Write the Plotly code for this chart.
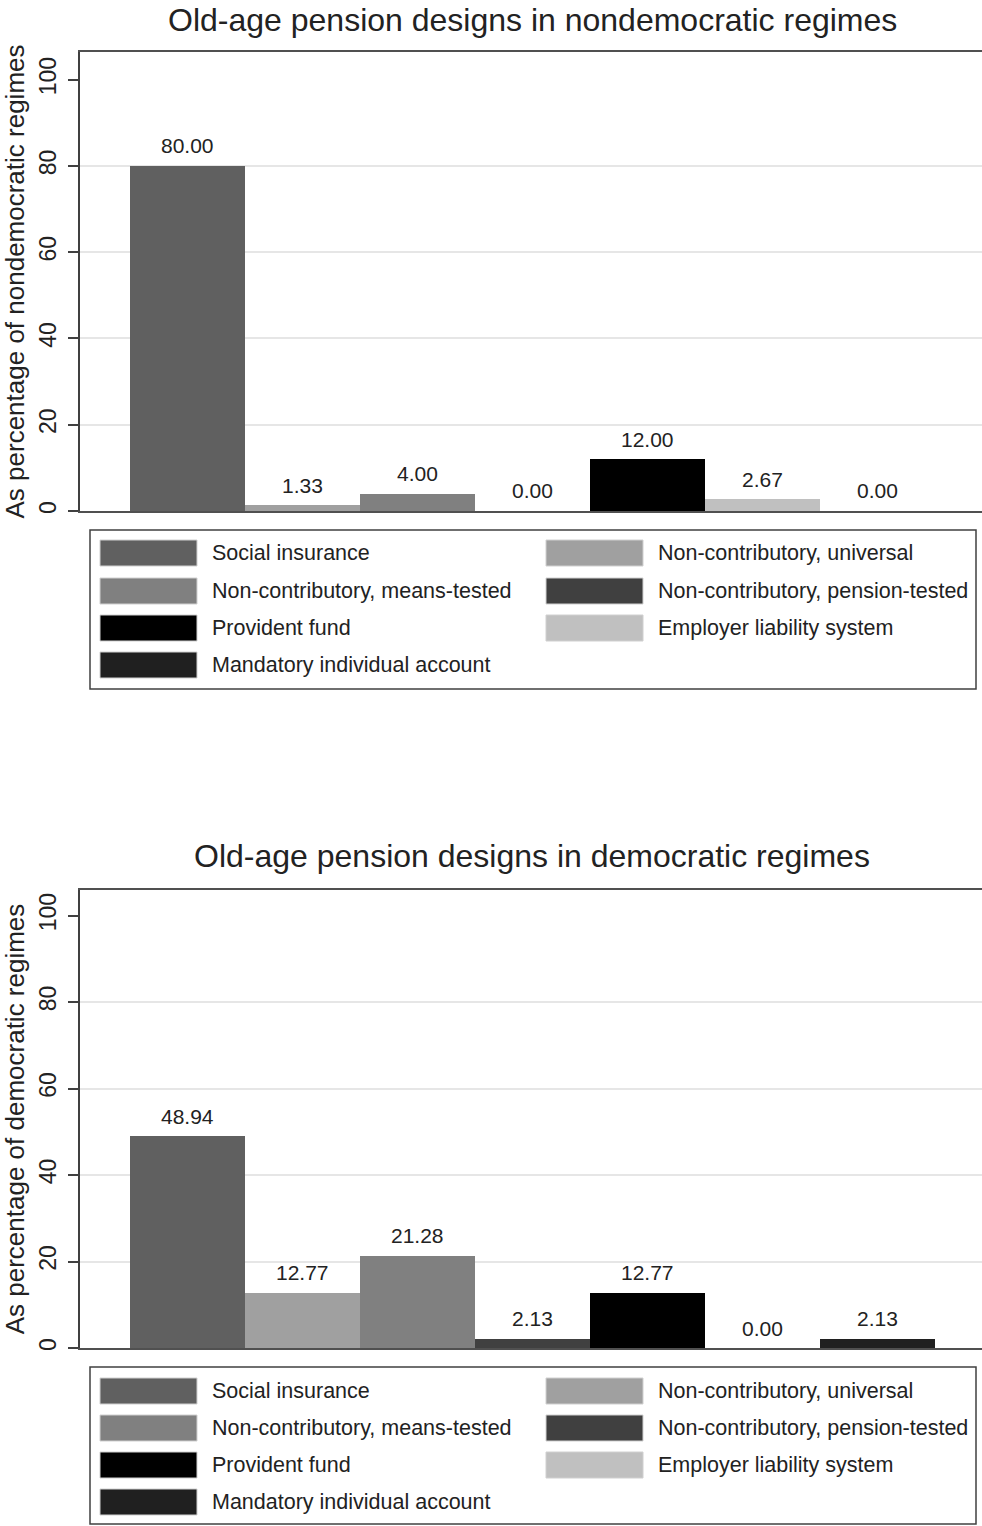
import plotly.graph_objects as go

# ---- data ----
categories = [
    "Social insurance",
    "Non-contributory, universal",
    "Non-contributory, means-tested",
    "Non-contributory, pension-tested",
    "Provident fund",
    "Employer liability system",
    "Mandatory individual account",
]
colors = ["#606060", "#a0a0a0", "#808080", "#404040", "#000000", "#c0c0c0", "#202020"]
nondem_values = [80.00, 1.33, 4.00, 0.00, 12.00, 2.67, 0.00]
dem_values = [48.94, 12.77, 21.28, 2.13, 12.77, 0.00, 2.13]
titles = ["Old-age pension designs in nondemocratic regimes",
          "Old-age pension designs in democratic regimes"]
ytitles = ["As percentage of nondemocratic regimes",
           "As percentage of democratic regimes"]
y_ticks = [0, 20, 40, 60, 80, 100]
grid_ticks = [20, 40, 60, 80]

W, H = 982, 1526
FONT = "Liberation Sans, Arial, sans-serif"
ML = 80
PW = W - ML

def px_x(px):
    return (px - ML) / PW

def px_y(py):
    return 1 - py / H

panels = [
    dict(values=nondem_values, top=52, bottom=511, ymax=106.4, title_y=20, leg_top=530, leg_bottom=689,
         rows=[553, 591, 628, 665]),
    dict(values=dem_values, top=890, bottom=1348, ymax=105.9, title_y=856, leg_top=1367, leg_bottom=1524,
         rows=[1391, 1428, 1465, 1502]),
]

fig = go.Figure()
shapes = []
annotations = []
xs = list(range(len(categories)))

for i, p in enumerate(panels):
    xa = "x" if i == 0 else "x2"
    ya = "y" if i == 0 else "y2"
    fig.add_trace(go.Bar(
        x=xs, y=p["values"],
        marker=dict(color=colors, line=dict(width=0)),
        width=1.0,
        showlegend=False,
        xaxis=xa, yaxis=ya,
        hovertext=categories,
    ))
    for xv, v in zip(xs, p["values"]):
        annotations.append(dict(
            text=f"{v:.2f}", xref=xa, yref=ya, x=xv, y=v,
            xanchor="center", yanchor="middle", yshift=20, showarrow=False,
            font=dict(size=21, color="#222222", family=FONT)))
    # titles
    annotations.append(dict(
        text=titles[i], xref="paper", yref="paper",
        x=px_x(532), y=px_y(p["title_y"]), xanchor="center", yanchor="middle",
        showarrow=False, font=dict(size=32, color="#222222", family=FONT)))
    # legend box
    shapes.append(dict(type="rect", xref="paper", yref="paper",
                       x0=px_x(90), x1=px_x(976), y0=px_y(p["leg_bottom"]), y1=px_y(p["leg_top"]),
                       line=dict(color="#404040", width=1.5), fillcolor="rgba(0,0,0,0)"))
    for k, cat in enumerate(categories):
        row = k // 2
        col = k % 2
        cy = p["rows"][row]
        sx0 = 100 if col == 0 else 546
        shapes.append(dict(type="rect", xref="paper", yref="paper",
                           x0=px_x(sx0), x1=px_x(sx0 + 97),
                           y0=px_y(cy + 13), y1=px_y(cy - 13),
                           line=dict(color="#d0d0d0", width=1), fillcolor=colors[k]))
        annotations.append(dict(
            text=cat, xref="paper", yref="paper",
            x=px_x(sx0 + 110), y=px_y(cy), xanchor="left", yanchor="middle",
            showarrow=False, font=dict(size=21.5, color="#222222", family=FONT)))

def yaxis_cfg(p, title):
    return dict(
        domain=[px_y(p["bottom"]), px_y(p["top"])],
        range=[0, p["ymax"]],
        tickvals=y_ticks, ticktext=[str(t) for t in y_ticks],
        tickangle=-90, ticks="outside", ticklen=10, tickwidth=2, tickcolor="#404040",
        tickfont=dict(size=23, color="#222222", family=FONT),
        ticklabelstandoff=3,
        showgrid=False, zeroline=False,
        showline=True, linecolor="#404040", linewidth=2,
        minor=dict(tickvals=grid_ticks, showgrid=True, gridcolor="#e6e6e6", gridwidth=2, ticklen=0),
        title=dict(text=title, font=dict(size=26, color="#222222", family=FONT), standoff=17),
        automargin=False,
        fixedrange=True,
    )

def xaxis_cfg(anchor):
    return dict(
        domain=[0, 1], range=[-0.935, 6.909], anchor=anchor,
        showticklabels=False, ticks="", showgrid=False, zeroline=False,
        showline=True, mirror=True, linecolor="#505050", linewidth=2,
        automargin=False, fixedrange=True,
    )

fig.update_layout(
    width=W, height=H,
    margin=dict(l=ML, r=0, t=0, b=0, autoexpand=False),
    paper_bgcolor="white", plot_bgcolor="white",
    bargap=0,
    hovermode=False,
    font=dict(family=FONT, color="#222222"),
    xaxis=xaxis_cfg("y"),
    yaxis=yaxis_cfg(panels[0], ytitles[0]),
    xaxis2=xaxis_cfg("y2"),
    yaxis2=yaxis_cfg(panels[1], ytitles[1]),
    shapes=shapes,
    annotations=annotations,
)

fig.write_html(
    "out.html",
    config={"displayModeBar": False, "staticPlot": True},
    post_script="document.body.style.margin='0';document.body.style.overflow='hidden';",
)
